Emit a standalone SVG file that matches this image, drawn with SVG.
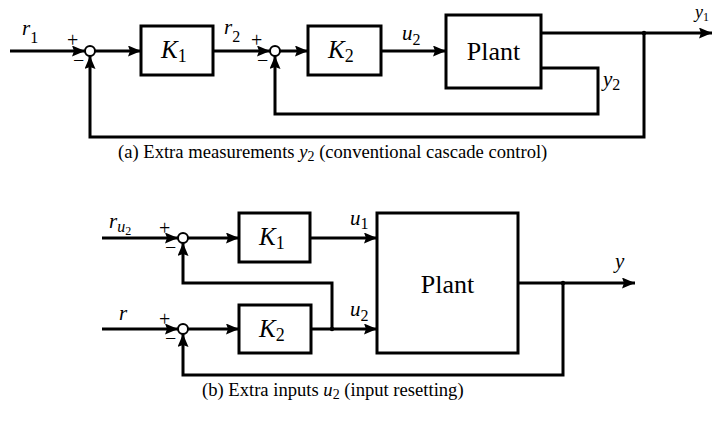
<svg xmlns="http://www.w3.org/2000/svg" width="715" height="427" viewBox="0 0 715 427" font-family="'Liberation Serif', 'DejaVu Serif', 'Times New Roman', serif">
<style>
.box{fill:none;stroke:#000;stroke-width:3}
.ln{fill:none;stroke:#000;stroke-width:3;stroke-linejoin:miter}
.arr{marker-end:url(#ah)}
.sum{fill:#fff;stroke:#000;stroke-width:2}
.t{font-family:'Liberation Serif','DejaVu Serif','Times New Roman',serif;fill:#000}
.mi{font-style:italic;font-size:21px}
.K{font-style:italic;font-size:25px}
.sb{font-style:normal;font-size:16px}
.sbK{font-style:normal;font-size:18px}
.pl{font-size:26px}
.sg{font-size:20px}
.cap{font-size:18.6px}
</style>
<defs>
<marker id="ah" markerUnits="userSpaceOnUse" markerWidth="13" markerHeight="11" refX="13" refY="5.5" orient="auto">
<path d="M0,0 L13,5.5 L0,11 L2,5.5 z" fill="#000"/>
</marker>
</defs>

<g id="connectors">
<path class="ln arr" d="M10,51 H85"/>
<path class="ln arr" d="M95,51 H141"/>
<path class="ln arr" d="M213,51 H270"/>
<path class="ln arr" d="M280,51 H308"/>
<path class="ln arr" d="M381,51 H446"/>
<path class="ln arr" d="M541,33 H712"/>
<path class="ln arr" d="M644,33 V137 H90 V56"/>
<path class="ln arr" d="M541,68 H598 V114 H275 V56"/>
<circle cx="644" cy="33" r="2.2" fill="#000"/>
<path class="ln arr" d="M102,238 H178"/>
<path class="ln arr" d="M188,238 H239"/>
<path class="ln arr" d="M310,238 H377"/>
<path class="ln arr" d="M102,329 H178"/>
<path class="ln arr" d="M188,329 H239"/>
<path class="ln arr" d="M311,329 H377"/>
<path class="ln arr" d="M518,283 H635"/>
<path class="ln arr" d="M563,283 V375 H183 V334"/>
<path class="ln arr" d="M332,329 V283 H183 V243"/>
<circle cx="563" cy="283" r="2.2" fill="#000"/>
<circle cx="332" cy="329" r="2.2" fill="#000"/>
</g>

<g id="a_sum1"><circle class="sum" cx="90" cy="51" r="5"/><text class="t sg" x="67" y="47">+</text><text class="t sg" x="73" y="67">−</text></g>
<g id="a_K1"><rect class="box" x="141" y="26" width="72" height="49"/><text x="161" y="58" class="t K">K<tspan class="sbK" dy="4">1</tspan></text></g>
<g id="a_sum2"><circle class="sum" cx="275" cy="51" r="5"/><text class="t sg" x="251" y="47">+</text><text class="t sg" x="257" y="67">−</text></g>
<g id="a_K2"><rect class="box" x="308" y="26" width="73" height="49"/><text x="328" y="58" class="t K">K<tspan class="sbK" dy="4">2</tspan></text></g>
<g id="a_plant"><rect class="box" x="446" y="15" width="95" height="73"/><text x="493.5" y="60" class="t pl" text-anchor="middle">Plant</text></g>
<g id="a_labels">
<text x="22" y="35" class="t mi">r<tspan class="sb" dy="8">1</tspan></text>
<text x="224" y="34" class="t mi">r<tspan class="sb" dy="8">2</tspan></text>
<text x="402" y="40" class="t mi">u<tspan class="sb" dy="5">2</tspan></text>
<text x="603" y="86" class="t mi">y<tspan class="sb" dy="4">2</tspan></text>
<text x="695" y="18" class="t" font-style="italic" font-size="18">y<tspan font-size="12" font-style="normal" dy="3">1</tspan></text>
</g>
<text x="118" y="158" class="t cap">(a) Extra measurements <tspan font-style="italic">y</tspan><tspan font-size="14" dy="3">2</tspan><tspan dy="-3"> (conventional cascade control)</tspan></text>

<g id="b_sum1"><circle class="sum" cx="183" cy="238" r="5"/><text class="t sg" x="159" y="235">+</text><text class="t sg" x="165" y="254">−</text></g>
<g id="b_K1"><rect class="box" x="239" y="213" width="71" height="49"/><text x="259" y="245" class="t K">K<tspan class="sbK" dy="4">1</tspan></text></g>
<g id="b_sum2"><circle class="sum" cx="183" cy="329" r="5"/><text class="t sg" x="159" y="326">+</text><text class="t sg" x="165" y="345">−</text></g>
<g id="b_K2"><rect class="box" x="239" y="305" width="72" height="48"/><text x="259" y="337" class="t K">K<tspan class="sbK" dy="4">2</tspan></text></g>
<g id="b_plant"><rect class="box" x="377" y="213" width="141" height="140"/><text x="447.5" y="293" class="t pl" text-anchor="middle">Plant</text></g>
<g id="b_labels">
<text x="109" y="228" class="t mi">r<tspan font-size="16" dy="4">u</tspan><tspan font-size="12" font-style="normal" dy="3">2</tspan></text>
<text x="350" y="225" class="t mi">u<tspan class="sb" dy="4">1</tspan></text>
<text x="350" y="316" class="t mi">u<tspan class="sb" dy="5">2</tspan></text>
<text x="119" y="320" class="t mi">r</text>
<text x="615" y="268" class="t mi">y</text>
</g>
<text x="202" y="396" class="t cap">(b) Extra inputs <tspan font-style="italic">u</tspan><tspan font-size="14" dy="3">2</tspan><tspan dy="-3"> (input resetting)</tspan></text>
</svg>
